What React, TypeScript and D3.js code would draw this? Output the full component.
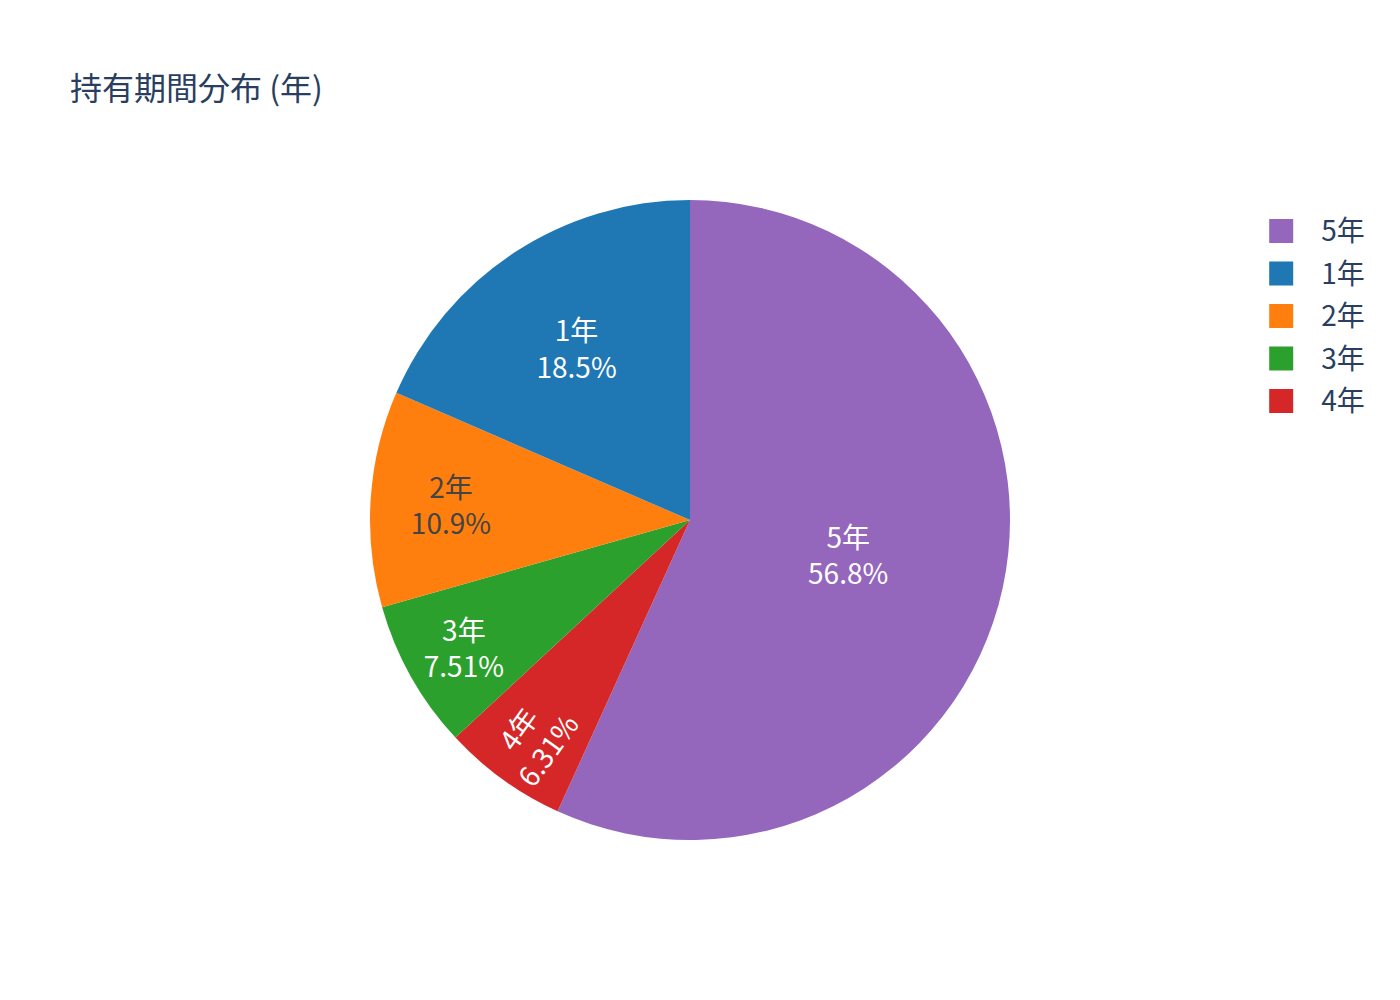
import { useEffect, useRef } from 'react';
import * as d3 from 'd3';

// slices in drawing order (clockwise from 12 o'clock)
const sliceLabels = ['5年', '4年', '3年', '2年', '1年'];
const sliceValues = [56.8, 6.31, 7.51, 10.9, 18.5];
// legend follows the trace order
const legendLabels = ['5年', '1年', '2年', '3年', '4年'];

const sliceColors: Record<string, string> = {
  '5年': '#9467bd',
  '1年': '#1f77b4',
  '2年': '#ff7f0e',
  '3年': '#2ca02c',
  '4年': '#d62728',
};

const TITLE = '持有期間分布 (年)';
const FONT = '"Noto Sans CJK JP", "Noto Sans", sans-serif';
const TEXTPAD = 6;

interface Slice {
  label: string;
  value: number;
}

// text colour that contrasts with the slice
function contrastText(color: string) {
  const c = d3.rgb(color);
  const brightness = (c.r * 299 + c.g * 587 + c.b * 114) / 1000;
  return brightness >= 128 ? '#444444' : '#ffffff';
}

function maxHalfSize(a: number, halfAngle: number, r: number) {
  const q = a + 1 / (2 * Math.tan(halfAngle));
  return r * Math.min(1 / (Math.sqrt(q * q + 0.5) + q), 1 / (Math.sqrt(a * a + 0.5) + a));
}

const rotateFor = (t: number) => ((180 / Math.PI) * t + 720) % 180 - 90;

// pick the largest inside-text placement (horizontal, radial or tangential)
function insideTransform(w: number, h: number, r: number, start: number, end: number) {
  const half = (end - start) / 2;
  const mid = (start + end) / 2;
  const rIns = Math.min(1 / (1 + 1 / Math.sin(half)), 0.5);
  const horiz = { scale: (rIns * r * 2) / Math.sqrt(w * w + h * h), rCenter: 1 - rIns, rotate: 0 };
  if (horiz.scale >= 1) return { ...horiz, mid };

  const rp = Math.max(0, r - TEXTPAD);
  const aRad = w / h;
  const sRad = maxHalfSize(aRad, half, rp);
  const radial = {
    scale: (sRad * 2) / h,
    rCenter: Math.cos(sRad / rp) - (aRad * sRad) / rp,
    rotate: rotateFor(mid),
  };
  const aTan = h / w;
  const sTan = maxHalfSize(aTan, half, rp);
  const tangential = {
    scale: (sTan * 2) / w,
    rCenter: Math.cos(sTan / rp) - (aTan * sTan) / rp,
    rotate: rotateFor(mid + Math.PI / 2),
  };
  const best = [horiz, radial, tangential].reduce((a, b) => (b.scale > a.scale ? b : a));
  return { ...best, mid };
}

function PieChart() {
  const svgRef = useRef<SVGSVGElement>(null);

  useEffect(() => {
    if (!svgRef.current) return;
    document.body.style.margin = '0';

    const width = 1400;
    const height = 1000;
    const margin = { top: 200, right: 180, bottom: 160, left: 160 };
    const plotW = width - margin.left - margin.right;
    const plotH = height - margin.top - margin.bottom;
    const radius = Math.min(plotW, plotH) / 2;
    const cx = margin.left + plotW / 2;
    const cy = margin.top + plotH / 2;

    const svg = d3.select(svgRef.current);
    svg.selectAll('*').remove();
    svg.attr('width', width).attr('height', height).style('font-family', FONT);

    svg.append('rect').attr('width', width).attr('height', height).attr('fill', '#ffffff');

    const data: Slice[] = sliceLabels.map((label, i) => ({ label, value: sliceValues[i] }));
    const total = d3.sum(data, (d) => d.value);
    const fmtPct = d3.format('.3~r');

    const pie = d3
      .pie<Slice>()
      .sort(null)
      .value((d) => d.value)
      .startAngle(0)
      .endAngle(2 * Math.PI);
    const arcs = pie(data);
    const arc = d3.arc<d3.PieArcDatum<Slice>>().innerRadius(0).outerRadius(radius);

    const g = svg.append('g').attr('transform', `translate(${cx},${cy})`);

    g.selectAll('path.slice')
      .data(arcs)
      .enter()
      .append('path')
      .attr('class', 'slice')
      .attr('d', arc)
      .attr('fill', (d) => sliceColors[d.data.label]);

    // inside labels: name on the first line, share on the second
    const fontSize = 28;
    arcs.forEach((a) => {
      const tg = g.append('g');
      const text = tg
        .append('text')
        .attr('font-size', fontSize)
        .attr('text-anchor', 'middle')
        .attr('fill', contrastText(sliceColors[a.data.label]));
      text.append('tspan').attr('x', 0).attr('y', 0).text(a.data.label);
      text
        .append('tspan')
        .attr('x', 0)
        .attr('y', fontSize * 1.3)
        .text(`${fmtPct((a.data.value / total) * 100)}%`);

      const bb = (text.node() as SVGTextElement).getBBox();
      const t = insideTransform(bb.width, bb.height, radius, a.startAngle, a.endAngle);
      const scale = Math.min(1, t.scale);
      const tx = Math.sin(t.mid) * radius * t.rCenter;
      const ty = -Math.cos(t.mid) * radius * t.rCenter;
      const bcx = bb.x + bb.width / 2;
      const bcy = bb.y + bb.height / 2;
      tg.attr(
        'transform',
        `translate(${tx},${ty}) rotate(${t.rotate}) scale(${scale}) translate(${-bcx},${-bcy})`
      );
    });

    // title
    svg
      .append('text')
      .attr('x', width * 0.05)
      .attr('y', 100)
      .attr('font-size', 32)
      .attr('fill', '#2a3f5f')
      .text(TITLE);

    // legend
    const legendX = margin.left + plotW + plotW * 0.02;
    const legendY = d3
      .scalePoint<string>()
      .domain(legendLabels)
      .range([margin.top + 31, margin.top + 31 + 42.5 * (legendLabels.length - 1)]);

    const items = svg
      .append('g')
      .selectAll('g.legend-item')
      .data(legendLabels)
      .enter()
      .append('g')
      .attr('class', 'legend-item')
      .attr('transform', (d) => `translate(${legendX},${legendY(d)})`);

    items
      .append('rect')
      .attr('x', 28)
      .attr('y', -12)
      .attr('width', 24)
      .attr('height', 24)
      .attr('fill', (d) => sliceColors[d]);

    items
      .append('text')
      .attr('x', 80)
      .attr('dy', '0.36em')
      .attr('font-size', 28)
      .attr('fill', '#2a3f5f')
      .text((d) => d);
  }, []);

  return <svg ref={svgRef} style={{ display: 'block' }} />;
}

export default function App() {
  return <PieChart />;
}
